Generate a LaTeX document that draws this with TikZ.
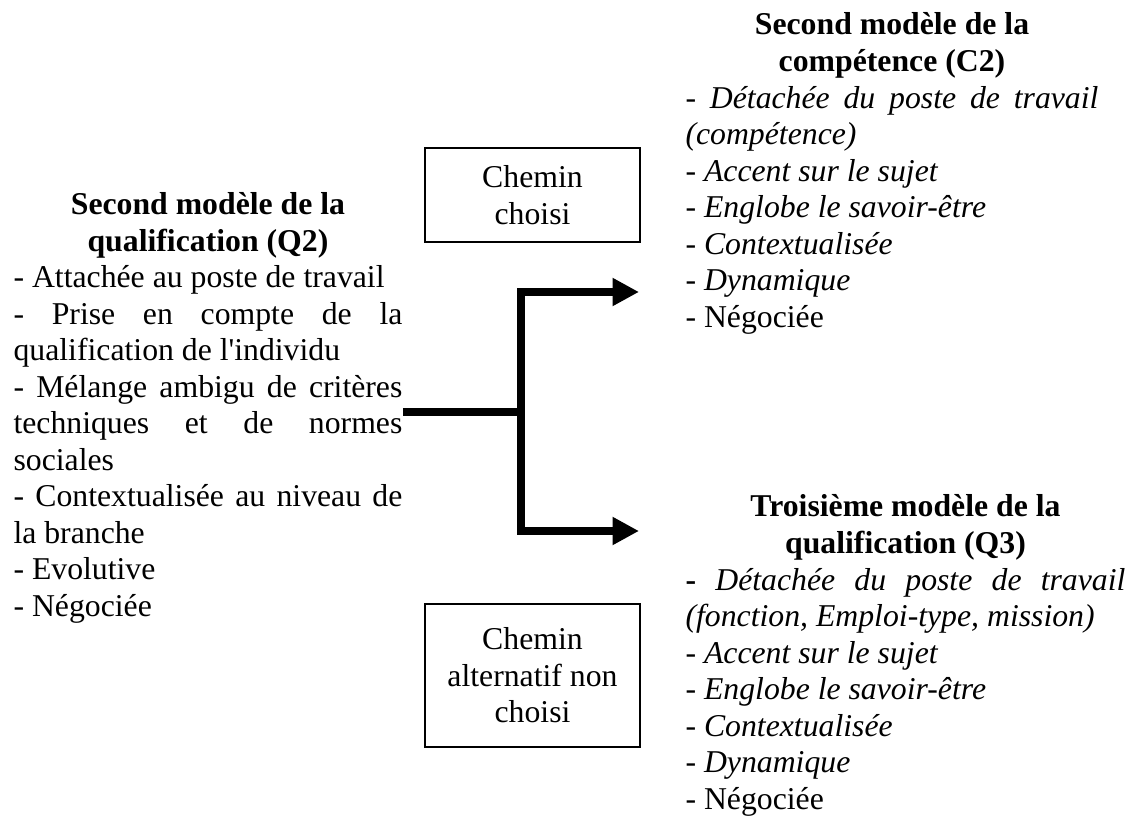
\documentclass[tikz,border=0pt]{standalone}
\usepackage{fontspec}
\setmainfont{Liberation Serif}[Ligatures=TeXOff]
\usepackage{tikz}
\usetikzlibrary{arrows.meta,positioning,calc}
\tolerance=10000
\hyphenpenalty=10000

\begin{document}
\begin{tikzpicture}[x=0.378pt,y=-0.378pt,
  txt/.style={inner sep=0pt, anchor=base west, align=justify,
    font=\fontsize{12}{13.8}\selectfont},
  pathbox/.style={draw, line width=0.8pt, inner sep=0pt, align=center,
    minimum width=81.3pt, font=\fontsize{12}{13.8}\selectfont},
  link/.style={line width=2.8pt},
  flow/.style={link, -{Triangle[length=10pt,width=10pt]}}]
\useasboundingbox (0,0) rectangle (1137,816);

\node[txt, text width=147pt] (q2) at (13,214.5) {%
{\centering\bfseries Second modèle de la\\ qualification (Q2)\par}
- Attachée au poste de travail\par
- Prise en compte de la\linebreak qualification de l'individu\par
- Mélange ambigu de critères\linebreak techniques et de normes\linebreak sociales\par
- Contextualisée au niveau de\linebreak la branche\par
- Evolutive\par
- Négociée};

\node[txt, text width=156.1pt] (c2) at (685,35) {%
{\centering\bfseries Second modèle de la\\ compétence (C2)\par}
- \textit{Détachée du poste de travail}\linebreak \textit{(compétence)}\par
\textit{- Accent sur le sujet}\par
\textit{- Englobe le savoir-être}\par
\textit{- Contextualisée}\par
\textit{- Dynamique}\par
- Négociée};

\node[txt, text width=166.3pt] (q3) at (685,517) {%
{\centering\bfseries Troisième modèle de la\\ qualification (Q3)\par}
\textbf{-} \textit{Détachée du poste de travail}\linebreak \textit{(fonction, Emploi-type, mission)}\par
\textit{- Accent sur le sujet}\par
\textit{- Englobe le savoir-être}\par
\textit{- Contextualisée}\par
\textit{- Dynamique}\par
- Négociée};

\node[pathbox, minimum height=35.5pt] (choisi) at (532.5,195) {Chemin\\ choisi};
\node[pathbox, minimum height=54.1pt] (nonchoisi) at (532.5,675.5) {Chemin\\ alternatif non\\ choisi};

\coordinate (fork) at (521,412);
\coordinate (toc2) at (639,292);
\coordinate (toq3) at (639,531);
\draw[link] (q2.east |- fork) -- (fork);
\draw[flow] (fork) |- (toc2);
\draw[flow] (fork) |- (toq3);
\end{tikzpicture}
\end{document}
